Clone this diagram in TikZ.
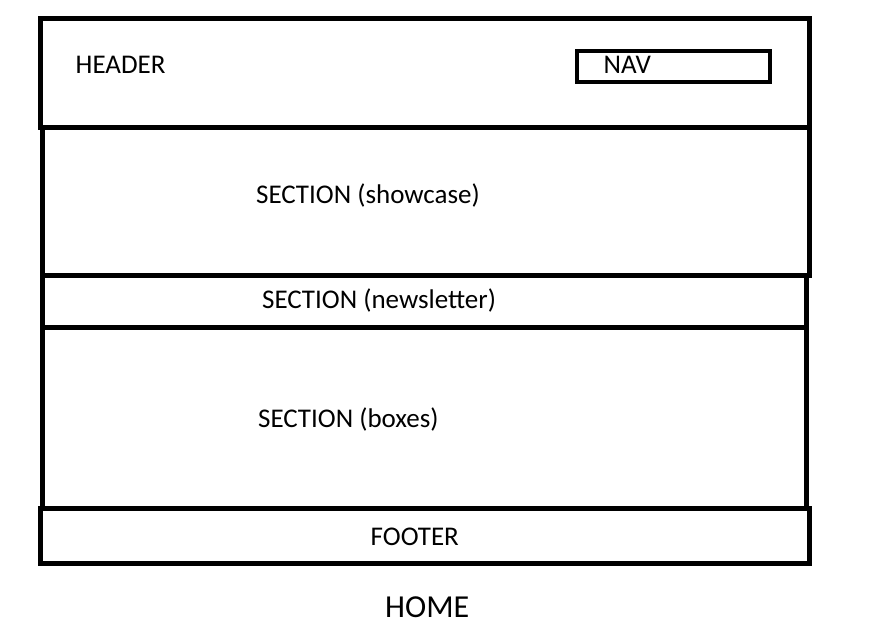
\documentclass[tikz,border=0pt]{standalone}
\usepackage{fontspec}
\setmainfont{Carlito}
\usetikzlibrary{positioning}
\definecolor{wireblack}{RGB}{0,0,0}

\begin{document}
\begin{tikzpicture}[x=1pt,y=-1pt,line cap=rect,line join=miter]
 \tikzset{
  block/.style={draw=wireblack,line width=5pt},
  navbox/.style={draw=wireblack,line width=4.5pt},
  lbl/.style={anchor=base west,inner sep=0pt,font=\fontsize{27}{31}\selectfont},
 }
 \useasboundingbox (0,0) rectangle (887,641);
 % page blocks
 \draw[block] (40,18) rectangle (809,127);
 \draw[block] (42,127) rectangle (809,275);
 \draw[block] (42,275) rectangle (806,327);
 \draw[block] (42,327) rectangle (806,508);
 \draw[block] (40,508) rectangle (809,563);
 \draw[navbox] (577,51) rectangle (770,82);
 % labels
 \node[lbl] (header) at (75.5,73.3) {HEADER};
 \node[lbl] (nav) at (603.5,73.3) {NAV};
 \node[lbl] (showcase) at (256,203.3) {SECTION (showcase)};
 \node[lbl] (newsletter) at (262,308) {SECTION (newsletter)};
 \node[lbl] (boxes) at (258,427.3) {SECTION (boxes)};
 \node[lbl] (footer) at (370.5,545) {FOOTER};
 \node[lbl,font=\fontsize{32}{36}\selectfont] (home) at (385,617.3) {HOME};
\end{tikzpicture}
\end{document}
